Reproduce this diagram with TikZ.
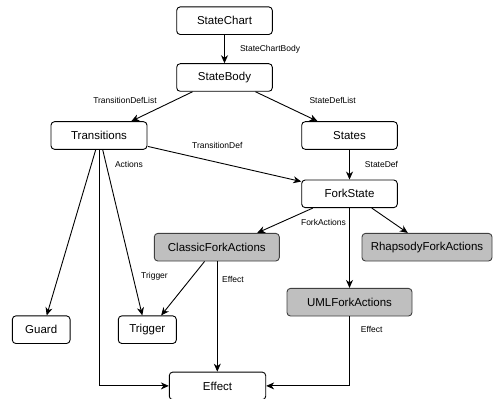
\documentclass[tikz,border=0pt]{standalone}
\usepackage{fontspec}
\setmainfont{Liberation Sans}
\usetikzlibrary{arrows.meta,calc}
\tikzset{
  box/.style={draw=black, line width=0.9pt, rounded corners=3.5pt, fill=white, minimum height=27.6pt, inner sep=0pt, font=\fontsize{11.5}{13}\selectfont},
  gbox/.style={box, fill=gray!50!white, draw=black!75},
  conn/.style={line width=0.9pt, -{Stealth[length=8pt, width=7pt, inset=2.5pt]}},
  lbl/.style={font=\fontsize{8.5}{10}\selectfont, inner sep=0pt},
}
\begin{document}
\begin{tikzpicture}[x=1pt, y=-1pt]
\useasboundingbox (0,0) rectangle (494,398);
\clip (0,0) rectangle (494,398);
\node[box, minimum width=95.6pt] (chart) at (224.5,20.7) {StateChart};
\node[box, minimum width=95.6pt] (body) at (224.5,77.5) {StateBody};
\node[box, minimum width=96pt] (trans) at (99,135.5) {Transitions};
\node[box, minimum width=95.6pt] (states) at (349.5,135.5) {States};
\node[box, minimum width=95.6pt] (fork) at (349.5,193.8) {ForkState};
\node[gbox, minimum width=125pt] (classic) at (216.8,247.2) {ClassicForkActions};
\node[gbox, minimum width=130pt] (rhap) at (427,247.2) {RhapsodyForkActions};
\node[gbox, minimum width=125pt] (uml) at (349.5,302.2) {UMLForkActions};
\node[box, minimum width=57.7pt] (guard) at (41.2,329.7) {Guard};
\node[box, minimum width=58pt] (trig) at (147.3,329.7) {Trigger};
\node[box, minimum width=96.4pt] (effect) at (217.5,385.9) {Effect};

\coordinate (cs) at ($(classic.south)+(0.5,0)$);

% connectors
\draw[conn] (chart) -- (body);
\draw[conn] ($(body.south west)+(16.3,0)$) -- ($(trans.north west)+(80.7,0)$);
\draw[conn] ($(body.south east)+(-17.3,0)$) -- ($(states.north west)+(16.3,0)$);
\draw[conn] ($(trans.south east)+(0.5,-3.3)$) -- ($(fork.north west)+(0,2)$);
\draw[conn] (states) -- (fork);
\draw[conn] ($(trans.south)+(-3.3,0)$) -- ($(guard.north)+(5.5,0)$);
\draw[conn] ($(trans.south)+(0.2,0)$) |- (effect.west);
\draw[conn] ($(trans.south)+(3.7,0)$) -- ($(trig.north)+(-5,0)$);
\draw[conn] ($(fork.south west)+(11.6,0)$) -- ($(classic.north east)+(-22.6,0)$);
\draw[conn] ($(fork.south east)+(-26,0)$) -- ($(rhap.north west)+(46.3,0)$);
\draw[conn] (fork) -- (uml);
\draw[conn] ($(classic.south west)+(50.7,0)$) -- ($(trig.north east)+(-15.6,0)$);
\draw[conn] (cs) -- (cs |- effect.north);
\draw[conn] (uml.south) |- (effect.east);

% labels
\node[lbl] (l1) at (270,49) {StateChartBody};
\node[lbl] (l2) at (125,100) {TransitionDefList};
\node[lbl] (l3) at (332.7,100) {StateDefList};
\node[lbl] (l4) at (217.3,145) {TransitionDef};
\node[lbl] (l5) at (381.5,164) {StateDef};
\node[lbl] (l6) at (129,164.7) {Actions};
\node[lbl] (l7) at (154.5,276.3) {Trigger};
\node[lbl] (l8) at (323.5,222.7) {ForkActions};
\node[lbl] (l9) at (233,279) {Effect};
\node[lbl] (l10) at (371.7,329) {Effect};
\end{tikzpicture}
\end{document}
